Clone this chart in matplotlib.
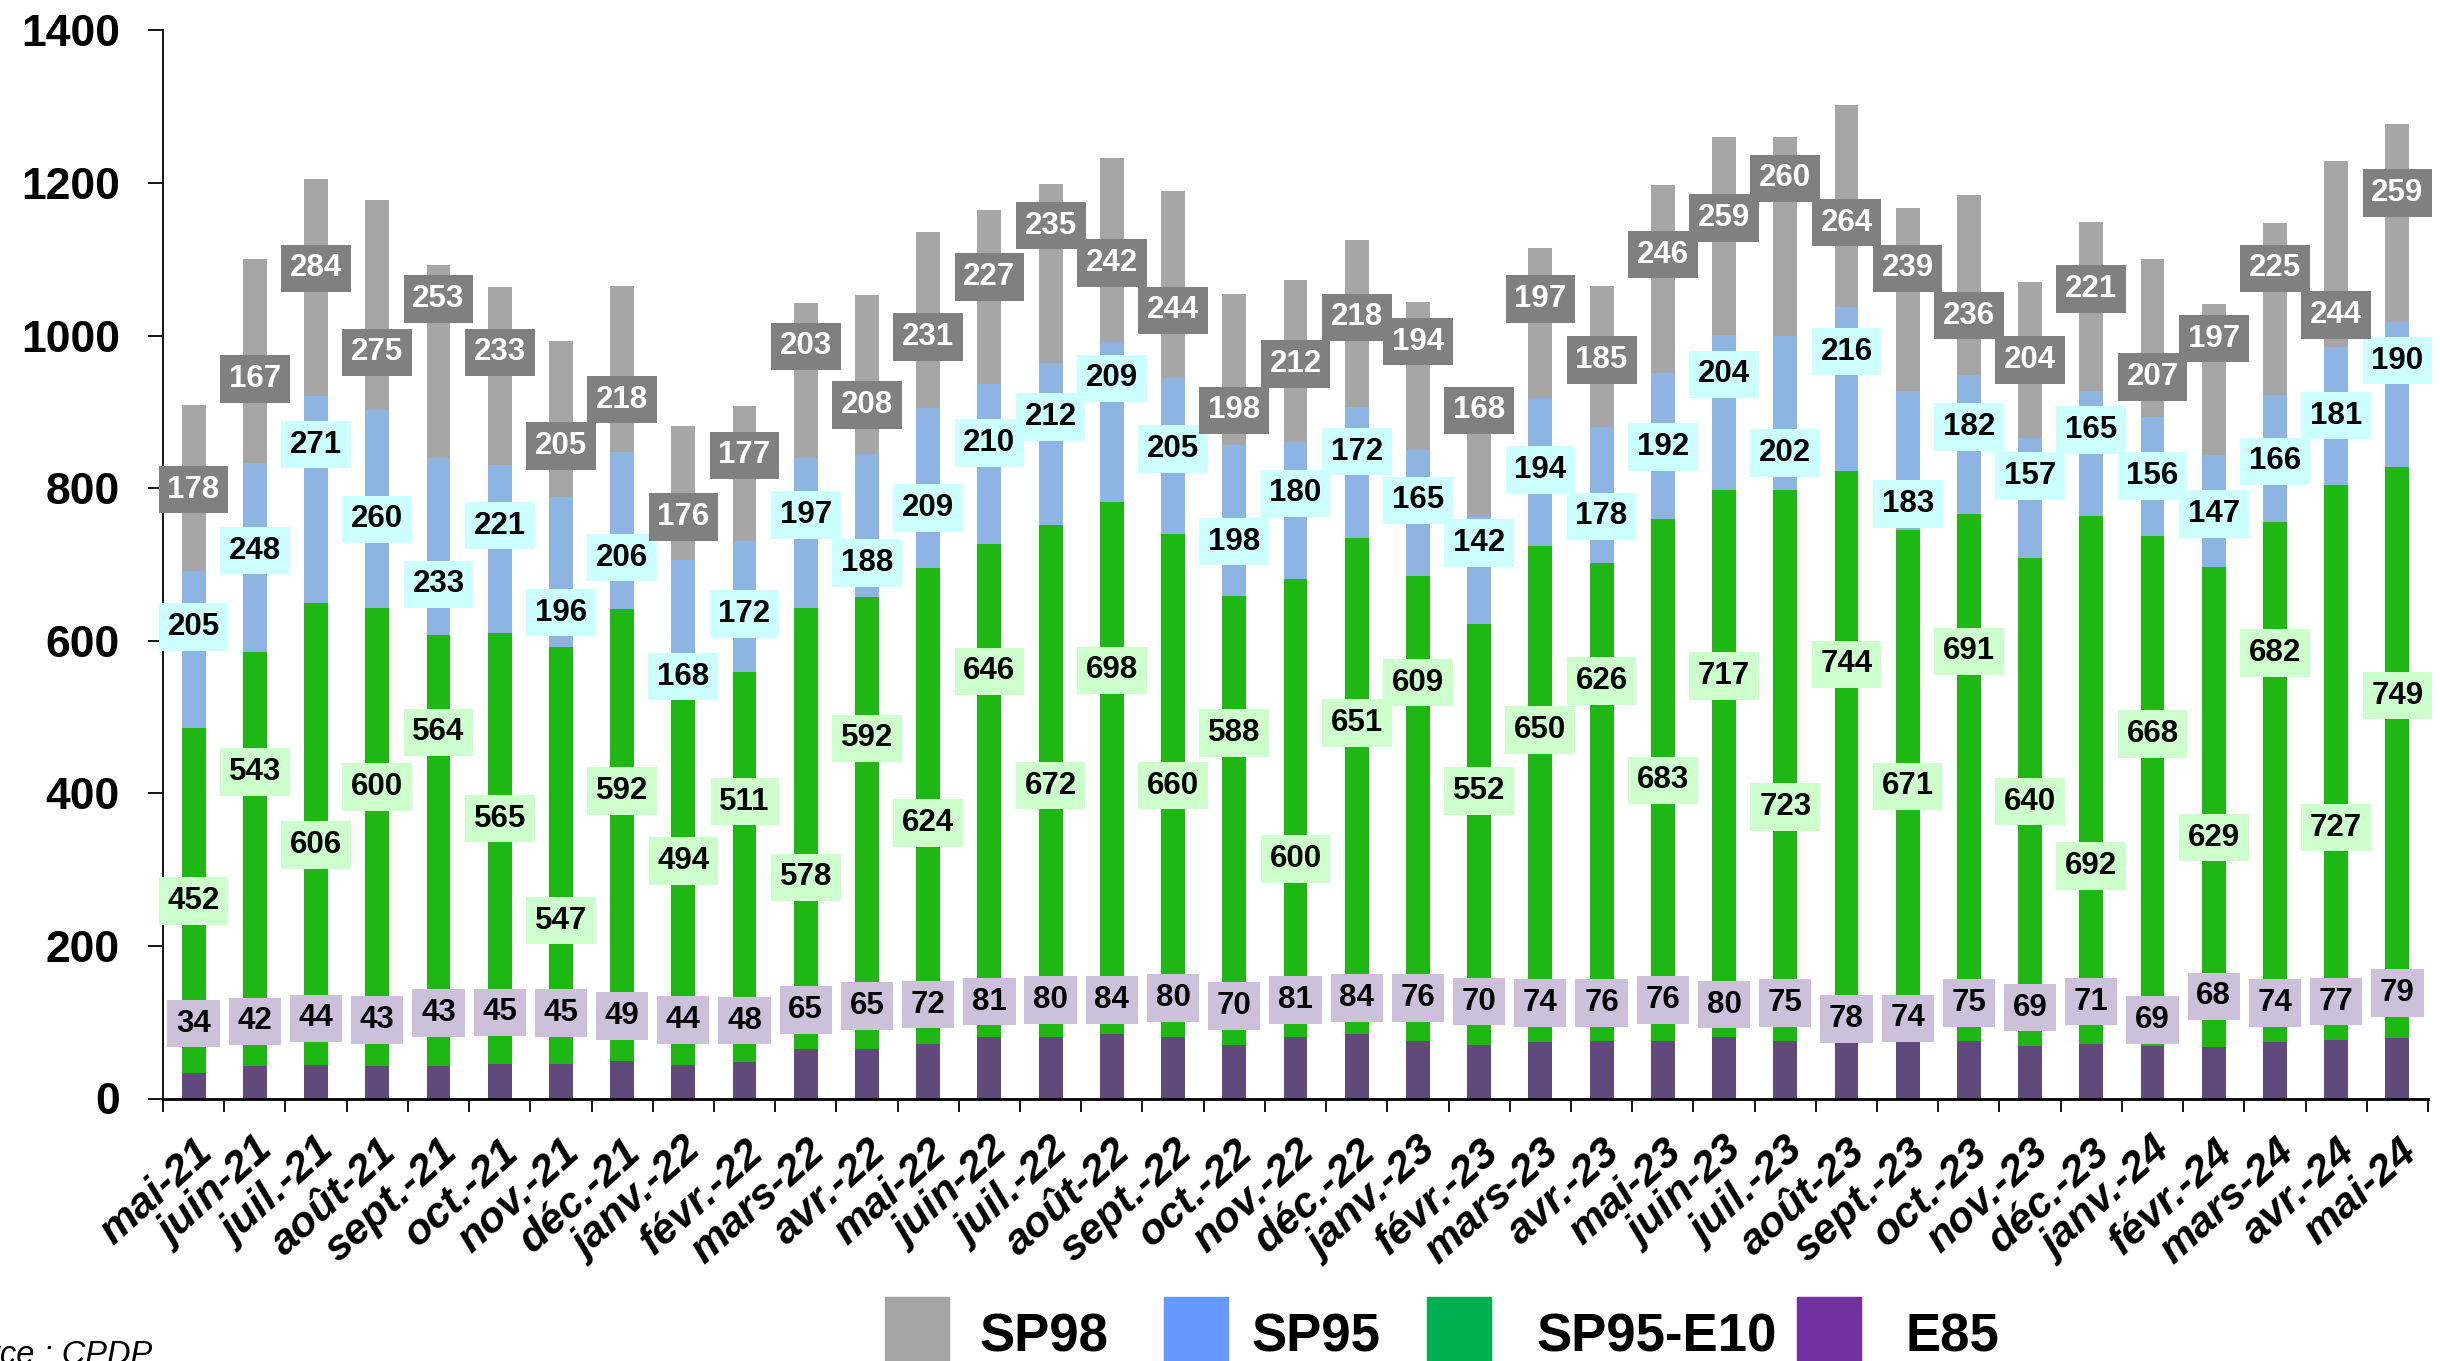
import matplotlib
matplotlib.use('Agg')
import matplotlib.pyplot as plt
from matplotlib.patches import Rectangle
import numpy as np

plt.rcParams['font.family'] = ['Liberation Sans', 'DejaVu Sans']

# Données (milliers de m3, source CPDP)
mois = ['mai-21', 'juin-21', 'juil.-21', 'août-21', 'sept.-21', 'oct.-21', 'nov.-21', 'déc.-21',
        'janv.-22', 'févr.-22', 'mars-22', 'avr.-22', 'mai-22', 'juin-22', 'juil.-22', 'août-22',
        'sept.-22', 'oct.-22', 'nov.-22', 'déc.-22', 'janv.-23', 'févr.-23', 'mars-23', 'avr.-23',
        'mai-23', 'juin-23', 'juil.-23', 'août-23', 'sept.-23', 'oct.-23', 'nov.-23', 'déc.-23',
        'janv.-24', 'févr.-24', 'mars-24', 'avr.-24', 'mai-24']

e85 = [34, 42, 44, 43, 43, 45, 45, 49, 44, 48, 65, 65, 72, 81, 80, 84, 80, 70, 81, 84, 76, 70,
       74, 76, 76, 80, 75, 78, 74, 75, 69, 71, 69, 68, 74, 77, 79]
e10 = [452, 543, 606, 600, 564, 565, 547, 592, 494, 511, 578, 592, 624, 646, 672, 698, 660, 588,
       600, 651, 609, 552, 650, 626, 683, 717, 723, 744, 671, 691, 640, 692, 668, 629, 682, 727, 749]
sp95 = [205, 248, 271, 260, 233, 221, 196, 206, 168, 172, 197, 188, 209, 210, 212, 209, 205, 198,
        180, 172, 165, 142, 194, 178, 192, 204, 202, 216, 183, 182, 157, 165, 156, 147, 166, 181, 190]
# hauteur des barres SP98 (les deux premières étiquettes ne collent pas à la barre)
sp98 = [218, 268, 284, 275, 253, 233, 205, 218, 176, 177, 203, 208, 231, 227, 235, 242, 244, 198,
        212, 218, 194, 168, 197, 185, 246, 259, 260, 264, 239, 236, 204, 221, 207, 197, 225, 244, 259]
sp98_lbl = [178, 167] + sp98[2:]

# position verticale des étiquettes
y_sp98 = [798, 943, 1088, 978, 1048, 978, 855, 916, 762, 843, 986, 909, 998, 1077, 1144, 1095,
          1033, 902, 963, 1024, 992, 902, 1048, 968, 1106, 1154, 1206, 1148, 1088, 1026, 968, 1061,
          946, 996, 1088, 1027, 1187]
y_sp95 = [618, 718, 857, 759, 674, 751, 637, 709, 553, 635, 765, 702, 774, 859, 893, 944, 851, 730,
          793, 848, 784, 728, 824, 763, 854, 949, 846, 979, 779, 880, 816, 876, 816, 766, 835, 895, 967]
y_e10 = [259, 428, 332, 408, 480, 367, 233, 403, 311, 389, 290, 472, 361, 560, 410, 561, 410, 479,
         314, 492, 545, 403, 483, 547, 417, 554, 382, 569, 409, 586, 389, 305, 478, 342, 584, 355, 528]
y_e85 = [98, 101, 105, 103, 112, 113, 112, 108, 103, 102, 116, 121, 123, 127, 129, 129, 132, 121,
         129, 132, 132, 127, 125, 125, 129, 123, 125, 104, 105, 125, 119, 127, 103, 134, 125, 127, 138]

# couleurs
c_sp98, c_sp95, c_e10, c_e85 = '#A6A6A6', '#8EB4E3', '#1FB714', '#604A7B'

W, H = 2440, 1361
fig = plt.figure(figsize=(W / 100, H / 100), dpi=100)
ax = fig.add_axes([163 / W, 1 - 1098.5 / H, (2428 - 163) / W, (1098.5 - 30.4) / H])

x = np.arange(len(mois))
larg = 0.39
b1 = np.array(e85)
b2 = b1 + np.array(e10)
b3 = b2 + np.array(sp95)
ax.bar(x, e85, larg, color=c_e85)
ax.bar(x, e10, larg, bottom=b1, color=c_e10)
ax.bar(x, sp95, larg, bottom=b2, color=c_sp95)
ax.bar(x, sp98, larg, bottom=b3, color=c_sp98)


def etiquettes(ypos, textes, fond, coul):
    for xi, yi, t in zip(x, ypos, textes):
        ax.text(xi, yi, str(t), ha='center', va='center', fontsize=22.5, fontweight='bold',
                color=coul, zorder=5,
                bbox=dict(boxstyle='square,pad=0.28', fc=fond, ec='none'))


etiquettes(y_e85, e85, '#CCC0DA', 'black')
etiquettes(y_e10, e10, '#CCFFCC', 'black')
etiquettes(y_sp95, sp95, '#CCFFFF', 'black')
etiquettes(y_sp98, sp98_lbl, '#808080', 'white')

# axes
ax.set_xlim(-0.5, len(mois) - 0.5)
ax.set_ylim(0, 1400)
ax.spines['top'].set_visible(False)
ax.spines['right'].set_visible(False)
ax.spines['bottom'].set_linewidth(2)
ax.spines['left'].set_linewidth(1.3)

ax.set_yticks(range(0, 1401, 200))
ax.tick_params(axis='y', direction='out', length=11, width=1.3, labelsize=32, pad=20)
plt.setp(ax.get_yticklabels(), fontweight='bold')

ax.set_xticks(x)
ax.set_xticklabels(mois, rotation=42, ha='right', rotation_mode='anchor',
                   fontsize=31, fontweight='bold', fontstyle='italic')
ax.tick_params(axis='x', which='major', length=0, pad=24)
ax.set_xticks(np.arange(-0.5, len(mois), 1), minor=True)
ax.tick_params(axis='x', which='minor', direction='out', length=9.5, width=1.3)

# légende
leg = [('SP98', '#A5A5A5', 885, 979), ('SP95', '#6699FF', 1164, 1251),
       ('SP95-E10', '#00B050', 1427, 1536), ('E85', '#7030A0', 1797, 1906)]
for nom, coul, xp, xt in leg:
    fig.add_artist(Rectangle((xp / W, 0), 64 / W, 64 / H, transform=fig.transFigure,
                             color=coul))
    fig.text(xt / W, 9 / H, nom, fontsize=38, fontweight='bold', va='baseline')

# source, rognée à gauche comme sur l'original
fig.text(-69 / W, -3 / H, 'Source : CPDP', fontsize=23.5, style='italic', va='baseline')

fig.savefig('out.png', dpi=100)
